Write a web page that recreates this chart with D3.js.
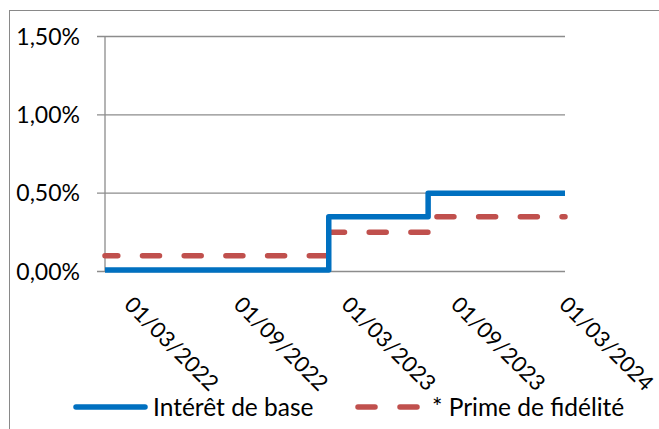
<!DOCTYPE html>
<html>
<head>
<meta charset="utf-8">
<script src="https://cdn.jsdelivr.net/npm/d3@7"></script>
<style>
  body { margin: 0; background: #fff; }
  text { font-family: Lato, "Liberation Sans", sans-serif; fill: #000; }
</style>
</head>
<body>
<div id="chart"></div>
<script>
// data
var dates = ["2022-03-01", "2023-03-12", "2023-08-26", "2024-04-12"];
var interetBase = [0.01, 0.35, 0.50, 0.50];
var primeFidelite = [0.10, 0.25, 0.35, 0.35];
var tickDates = ["2022-03-01", "2022-09-01", "2023-03-01", "2023-09-01", "2024-03-01"];
var yTicks = [0, 0.5, 1.0, 1.5];
var seriesNames = ["Intérêt de base", "* Prime de fidélité"];

var width = 659, height = 429;
var parse = d3.timeParse("%Y-%m-%d");
var fmtDate = d3.timeFormat("%d/%m/%Y");
var fr = d3.formatLocale({decimal: ",", thousands: " ", grouping: [3], currency: ["", " €"]});
var fmtPct = function (v) { return fr.format(".2f")(v) + "%"; };

var svg = d3.select("#chart").append("svg")
    .attr("width", width)
    .attr("height", height);

// chart frame (runs off the right and bottom edge)
svg.append("rect")
    .attr("x", 9.5).attr("y", 10.5)
    .attr("width", 720).attr("height", 500)
    .attr("fill", "none").attr("stroke", "#898989");

var x = d3.scaleTime()
    .domain([parse(dates[0]), parse(dates[dates.length - 1])])
    .range([105, 565]);
var y = d3.scaleLinear()
    .domain([0, 1.5])
    .range([271.5, 36.5]);

// gridlines + y ticks
svg.append("g").selectAll("line")
    .data(yTicks)
    .enter().append("line")
    .attr("x1", 97).attr("x2", 565)
    .attr("y1", function (d) { return y(d); })
    .attr("y2", function (d) { return y(d); })
    .attr("stroke", "#8c8c8c").attr("stroke-width", 1.3);

svg.append("line")
    .attr("x1", 105).attr("x2", 105)
    .attr("y1", y(1.5)).attr("y2", y(0))
    .attr("stroke", "#8c8c8c").attr("stroke-width", 1.3);

svg.append("g").selectAll("text")
    .data(yTicks)
    .enter().append("text")
    .attr("x", 80)
    .attr("y", function (d) { return y(d); })
    .attr("dy", "0.36em")
    .attr("text-anchor", "end")
    .style("font-size", "23px")
    .text(fmtPct);

// x labels, rotated
svg.append("g").selectAll("text")
    .data(tickDates)
    .enter().append("text")
    .attr("transform", function (d) {
        return "translate(" + (x(parse(d)) + 18) + "," + 306 + ") rotate(45)";
    })
    .attr("text-anchor", "start")
    .style("font-size", "22px")
    .text(function (d) { return fmtDate(parse(d)); });

// series
var pts = function (vals) {
    return dates.map(function (d, i) { return [parse(d), vals[i]]; });
};
var line = d3.line()
    .x(function (d) { return x(d[0]); })
    .y(function (d) { return y(d[1]); })
    .curve(d3.curveStepAfter);

svg.append("path")
    .attr("d", line(pts(primeFidelite)))
    .attr("fill", "none")
    .attr("stroke", "#C0504D")
    .attr("stroke-width", 5.5)
    .attr("stroke-linecap", "round")
    .attr("stroke-linejoin", "round")
    .attr("stroke-dasharray", "17,24.7")
    .attr("stroke-dashoffset", -37.5);

svg.append("path")
    .attr("d", line(pts(interetBase)))
    .attr("fill", "none")
    .attr("stroke", "#0070C0")
    .attr("stroke-width", 5.5)
    .attr("stroke-linejoin", "round");

// legend
var lg = svg.append("g");
lg.append("line")
    .attr("x1", 76).attr("x2", 145).attr("y1", 407).attr("y2", 407)
    .attr("stroke", "#0070C0").attr("stroke-width", 5.5)
    .attr("stroke-linecap", "round");
lg.append("text")
    .attr("x", 153).attr("y", 407).attr("dy", "0.36em")
    .style("font-size", "24.5px")
    .text(seriesNames[0]);
lg.append("line")
    .attr("x1", 358).attr("x2", 417).attr("y1", 407).attr("y2", 407)
    .attr("stroke", "#C0504D").attr("stroke-width", 5.5)
    .attr("stroke-linecap", "round")
    .attr("stroke-dasharray", "17,25");
lg.append("text")
    .attr("x", 432).attr("y", 407).attr("dy", "0.36em")
    .style("font-size", "24.5px")
    .text(seriesNames[1]);
</script>
</body>
</html>
